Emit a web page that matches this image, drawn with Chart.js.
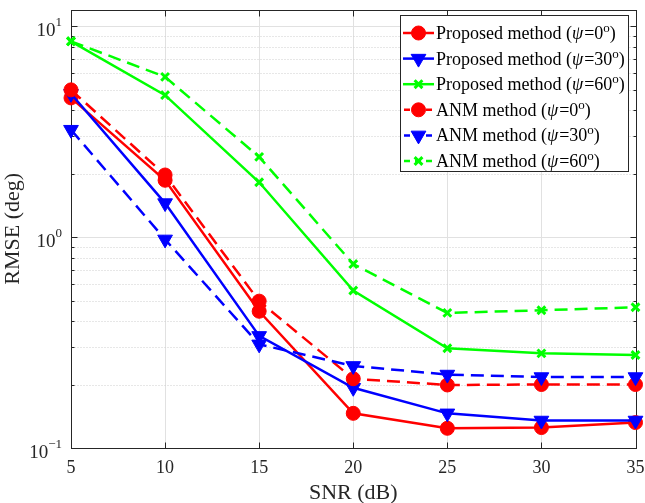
<!DOCTYPE html>
<html>
<head>
<meta charset="utf-8">
<script src="https://cdn.jsdelivr.net/npm/chart.js@4/dist/chart.umd.min.js"></script>
<style>
html,body{margin:0;padding:0;background:#fff;}
#wrap{width:645px;height:503px;}
</style>
</head>
<body>
<div id="wrap"><canvas id="c" width="645" height="503"></canvas></div>
<script>
// ---- data ----
const snr = [5, 10, 15, 20, 25, 30, 35];
const proposed0  = [4.57, 1.86, 0.445, 0.146, 0.124, 0.125, 0.132];
const proposed30 = [4.78, 1.45, 0.34, 0.193, 0.146, 0.135, 0.135];
const proposed60 = [8.48, 4.71, 1.82, 0.558, 0.297, 0.281, 0.276];
const anm0  = [4.99, 1.97, 0.497, 0.213, 0.199, 0.200, 0.200];
const anm30 = [3.23, 0.975, 0.31, 0.245, 0.223, 0.217, 0.217];
const anm60 = [8.48, 5.75, 2.40, 0.745, 0.437, 0.450, 0.465];
const yMajorTicks = [0.1, 1, 10];
const yTickExponents = ['-1', '0', '1'];
const xTicks = [5, 10, 15, 20, 25, 30, 35];
const legendNames = [
  ['Proposed method', '0'], ['Proposed method', '30'], ['Proposed method', '60'],
  ['ANM method', '0'], ['ANM method', '30'], ['ANM method', '60']
];

const RED = '#ff0000', BLUE = '#0000ff', GREEN = '#00ff00';
const DASH = [13, 7];
const AXC = '#262626';
const SERIF = "'Liberation Serif','Times New Roman',serif";

function pts(vals) { return snr.map((x, i) => ({x: x, y: vals[i]})); }
function ds(label, vals, color, style, dashed, order) {
  return {
    label: label, data: pts(vals), borderColor: color, backgroundColor: color,
    borderWidth: 2.5, borderDash: dashed ? DASH : [], pointStyle: style,
    pointRadius: style === 'circle' ? 7 : (style === 'triangle' ? 8.5 : 5.5),
    pointRotation: style === 'triangle' ? 180 : 0,
    pointBorderColor: color, pointBackgroundColor: color,
    pointBorderWidth: style === 'crossRot' ? 3 : 1,
    tension: 0, fill: false, order: order, clip: false
  };
}

const datasets = [
  ds(legendNames[0].join(' '), proposed0, RED, 'circle', false, 5),
  ds(legendNames[1].join(' '), proposed30, BLUE, 'triangle', false, 4),
  ds(legendNames[2].join(' '), proposed60, GREEN, 'crossRot', false, 3),
  ds(legendNames[3].join(' '), anm0, RED, 'circle', true, 2),
  ds(legendNames[4].join(' '), anm30, BLUE, 'triangle', true, 1),
  ds(legendNames[5].join(' '), anm60, GREEN, 'crossRot', true, 0)
];

const axesPlugin = {
  id: 'axesPlugin',
  beforeDatasetsDraw(chart) {
    const ctx = chart.ctx, a = chart.chartArea;
    const xs = chart.scales.x, ys = chart.scales.y;
    const L = Math.round(a.left) + 0.5, R = Math.round(a.right) + 0.5;
    const T = Math.round(a.top) + 0.5, B = Math.round(a.bottom) + 0.5;
    ctx.save();
    ctx.strokeStyle = '#e1e1e1'; ctx.lineWidth = 1; ctx.setLineDash([]);
    xTicks.forEach(v => {
      const px = Math.round(xs.getPixelForValue(v)) + 0.5;
      ctx.beginPath(); ctx.moveTo(px, T); ctx.lineTo(px, B); ctx.stroke();
    });
    for (let e = -1; e <= 1; e++) {
      for (let m = 1; m <= 9; m++) {
        const v = m * Math.pow(10, e);
        if (v < 0.1 || v > ys.max) continue;
        const py = Math.round(ys.getPixelForValue(v)) + 0.5;
        if (m === 1) { ctx.setLineDash([]); ctx.strokeStyle = '#e1e1e1'; }
        else { ctx.setLineDash([1, 2]); ctx.strokeStyle = '#cfcfcf'; }
        ctx.beginPath(); ctx.moveTo(L, py); ctx.lineTo(R, py); ctx.stroke();
      }
    }
    ctx.setLineDash([]);
    ctx.strokeStyle = AXC; ctx.lineWidth = 1;
    ctx.strokeRect(L, T, R - L, B - T);
    ctx.beginPath();
    xTicks.forEach(v => {
      const px = Math.round(xs.getPixelForValue(v)) + 0.5;
      ctx.moveTo(px, B); ctx.lineTo(px, B - 6);
      ctx.moveTo(px, T); ctx.lineTo(px, T + 6);
    });
    for (let e = -1; e <= 1; e++) {
      for (let m = 1; m <= 9; m++) {
        const v = m * Math.pow(10, e);
        if (v < 0.1 || v > ys.max) continue;
        const py = Math.round(ys.getPixelForValue(v)) + 0.5;
        const len = m === 1 ? 6 : 3;
        ctx.moveTo(L, py); ctx.lineTo(L + len, py);
        ctx.moveTo(R, py); ctx.lineTo(R - len, py);
      }
    }
    ctx.stroke();
    // y tick labels: 10 with superscript exponent
    ctx.fillStyle = AXC; ctx.textAlign = 'left'; ctx.textBaseline = 'alphabetic';
    yMajorTicks.forEach((v, i) => {
      const py = ys.getPixelForValue(v);
      const ex = yTickExponents[i].replace('-', '\u2212');
      ctx.font = '13px ' + SERIF;
      const ew = ctx.measureText(ex).width;
      ctx.font = '19px ' + SERIF;
      const bw = ctx.measureText('10').width;
      const right = 62;
      const x0 = right - ew - bw;
      const base = py + 10;
      ctx.fillText('10', x0, base);
      ctx.font = '13px ' + SERIF;
      ctx.fillText(ex, x0 + bw, base - 10);
    });
    ctx.restore();
  }
};

const legendPlugin = {
  id: 'legendPlugin',
  afterDatasetsDraw(chart) {
    const ctx = chart.ctx;
    const bx = 400.5, by = 15.5, bw = 228, bh = 156;
    ctx.save();
    ctx.fillStyle = '#fff';
    ctx.fillRect(bx, by, bw, bh);
    ctx.strokeStyle = AXC; ctx.lineWidth = 1;
    ctx.strokeRect(bx, by, bw, bh);
    chart.data.datasets.forEach((d, i) => {
      const cy = 33 + i * 25.6;
      ctx.strokeStyle = d.borderColor; ctx.lineWidth = 2.5;
      ctx.setLineDash(d.borderDash.length ? [6, 5] : []);
      ctx.lineDashOffset = d.borderDash.length ? -1 : 0;
      ctx.beginPath(); ctx.moveTo(403, cy); ctx.lineTo(434, cy); ctx.stroke();
      ctx.setLineDash([]);
      ctx.fillStyle = d.borderColor; ctx.strokeStyle = d.borderColor;
      ctx.lineWidth = d.pointBorderWidth;
      Chart.helpers.drawPoint(ctx, {
        pointStyle: d.pointStyle, radius: d.pointRadius, rotation: d.pointRotation,
        borderWidth: d.pointBorderWidth
      }, 418.5, cy);
      const [name, ang] = legendNames[i];
      let x = 436;
      const base = cy + 6;
      ctx.fillStyle = '#000'; ctx.textBaseline = 'alphabetic'; ctx.textAlign = 'left';
      ctx.font = '18px ' + SERIF;
      const t1 = name + ' (';
      ctx.fillText(t1, x, base); x += ctx.measureText(t1).width;
      ctx.font = 'italic 18px ' + SERIF;
      ctx.fillText('\u03C8', x, base); x += ctx.measureText('\u03C8').width + 1;
      ctx.font = '18px ' + SERIF;
      const t2 = '=' + ang;
      ctx.fillText(t2, x, base); x += ctx.measureText(t2).width;
      ctx.font = '13px ' + SERIF;
      ctx.fillText('o', x, base - 7); x += ctx.measureText('o').width;
      ctx.font = '18px ' + SERIF;
      ctx.fillText(')', x, base);
    });
    ctx.restore();
  }
};

new Chart(document.getElementById('c'), {
  type: 'line',
  data: { datasets: datasets },
  plugins: [axesPlugin, legendPlugin],
  options: {
    responsive: false,
    animation: false,
    devicePixelRatio: 1,
    layout: { padding: { left: 0, right: 9, top: 8, bottom: 0 } },
    plugins: { legend: { display: false }, tooltip: { enabled: false } },
    scales: {
      x: {
        type: 'linear', min: 5, max: 35,
        afterBuildTicks(s) { s.ticks = xTicks.map(v => ({value: v})); },
        afterFit(s) { s.height = 55; s.paddingLeft = 0; s.paddingRight = 0; },
        ticks: { color: AXC, font: { family: SERIF, size: 18 }, padding: 9, maxRotation: 0 },
        grid: { display: false, drawTicks: false }, border: { display: false },
        title: { display: true, text: 'SNR (dB)', color: AXC, font: { family: SERIF, size: 22, lineHeight: 0.9 }, padding: { top: 0, bottom: 0 } }
      },
      y: {
        type: 'logarithmic', min: 0.1, max: 12,
        afterBuildTicks(s) { s.ticks = yMajorTicks.map(v => ({value: v})); },
        afterFit(s) { s.width = 71; s.paddingTop = 0; s.paddingBottom = 0; },
        ticks: { display: false },
        grid: { display: false, drawTicks: false }, border: { display: false },
        title: { display: true, text: 'RMSE (deg)', color: AXC, font: { family: SERIF, size: 22 }, padding: { top: 0, bottom: 2 } }
      }
    }
  }
});
</script>
</body>
</html>
